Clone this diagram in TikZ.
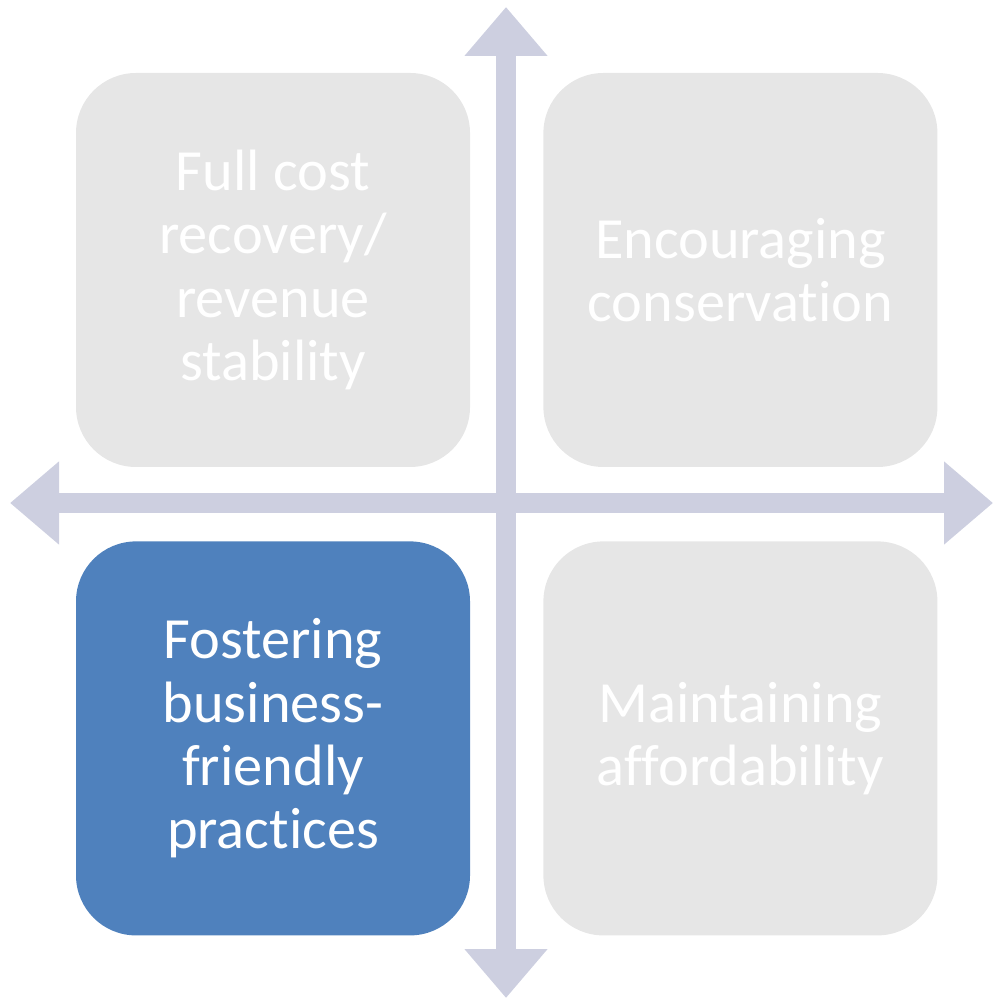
\documentclass[tikz,border=0pt]{standalone}
\usepackage{fontspec}
\setmainfont{Carlito}[Ligatures=NoCommon]
\usetikzlibrary{arrows.meta, positioning}

\definecolor{quadgray}{HTML}{E6E6E6}
\definecolor{quadblue}{HTML}{4F81BD}
\definecolor{axisgray}{HTML}{CDCFE0}

\begin{document}
\begin{tikzpicture}[node distance=0.73cm and 0.72cm,
  axis/.style={draw=axisgray,line width=0.2cm,
    {Triangle[width=0.8cm,length=0.49cm]}-{Triangle[width=0.8cm,length=0.49cm]}},
  quad node/.style={rectangle,rounded corners=0.6cm,fill=quadgray,
    minimum width=3.94cm,minimum height=3.94cm,align=center,text=white,
    font=\fontsize{16.6pt}{18pt}\selectfont},
  active/.style={fill=quadblue}]
  \useasboundingbox (0,0) rectangle (9.94,-10);
  \coordinate (top) at (5.06,-0.07);
  \coordinate (bottom) at (5.06,-9.98);
  \coordinate (left) at (0.10,-5.03);
  \coordinate (right) at (9.93,-5.03);
  \draw[axis] (bottom) -- (top);
  \draw[axis] (left) -- (right);
  \node[quad node] (cost) at (2.73,-2.70) {Full cost\\recovery/\\revenue\\stability};
  \node[quad node] (conserve) [right=of cost] {Encouraging\\conservation};
  \node[quad node, active] (business) [below=of cost] {Fostering\\business-\\friendly\\practices};
  \node[quad node] (afford) [below=of conserve] {Maintaining\\affordability};
\end{tikzpicture}
\end{document}
